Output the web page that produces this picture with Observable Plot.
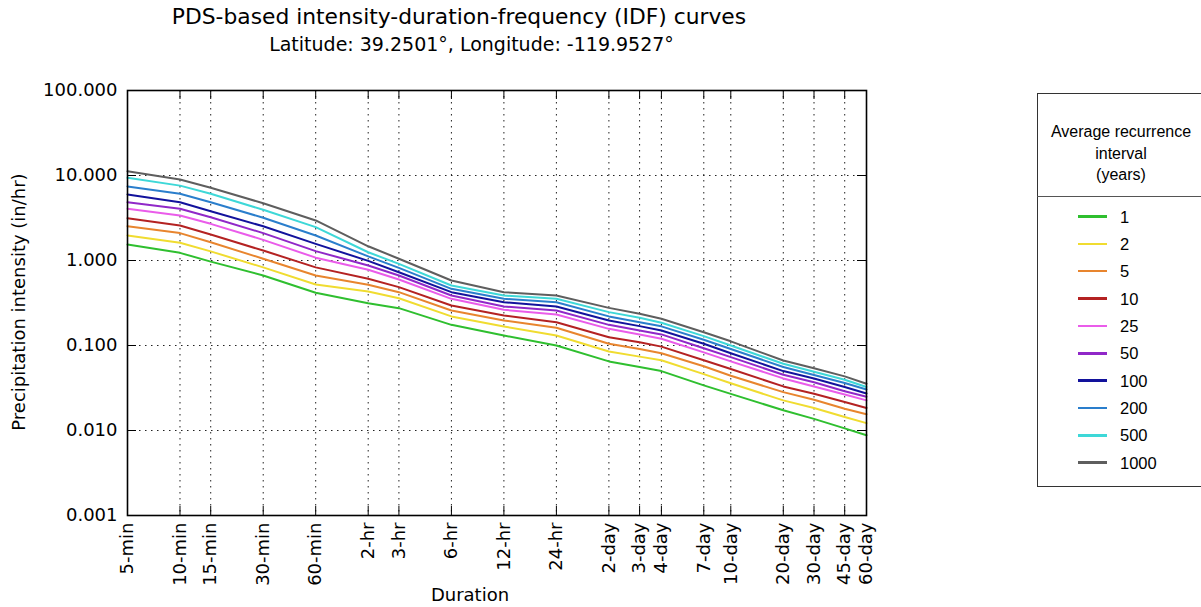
<!DOCTYPE html>
<html>
<head>
<meta charset="utf-8">
<script src="https://cdn.jsdelivr.net/npm/d3@7"></script>
<script src="https://cdn.jsdelivr.net/npm/@observablehq/plot@0.6"></script>
<style>
  html, body { margin: 0; padding: 0; background: #fff; }
  #wrap { position: relative; width: 1201px; height: 607px; overflow: hidden; background: #fff; }
  #chart { position: absolute; left: 0; top: 0; }
  .t { position: absolute; font-family: "DejaVu Sans", sans-serif; color: #000; white-space: nowrap; }
  .lg { position: absolute; font-family: "Liberation Sans", Arial, sans-serif; color: #000; white-space: nowrap; }
</style>
</head>
<body>
<div id="wrap">
  <div id="chart"></div>
  <div class="t" id="title" style="left:0;width:918px;top:6px;font-size:21.8px;line-height:22px;text-align:center;"></div>
  <div class="t" id="subtitle" style="left:0;width:943px;top:35px;font-size:19px;line-height:19px;text-align:center;"></div>
  <div class="t" id="xlabel" style="left:270px;width:400px;top:586px;font-size:18px;line-height:18px;text-align:center;"></div>
  <div class="t" id="ylabel" style="left:-181px;width:400px;top:292px;height:20px;font-size:18px;line-height:20px;text-align:center;transform:rotate(-90deg);transform-origin:50% 50%;"></div>
  <div id="legend"></div>
</div>
<script>
// ---- data ----
const durations = [5, 10, 15, 30, 60, 120, 180, 360, 720, 1440, 2880, 4320, 5760, 10080, 14400, 28800, 43200, 64800, 86400];
const durationLabels = ["5-min", "10-min", "15-min", "30-min", "60-min", "2-hr", "3-hr", "6-hr", "12-hr", "24-hr",
  "2-day", "3-day", "4-day", "7-day", "10-day", "20-day", "30-day", "45-day", "60-day"];
const yTicks = [0.001, 0.01, 0.1, 1, 10, 100];
const aris = ["1", "2", "5", "10", "25", "50", "100", "200", "500", "1000"];
const colors = ["#2fbf2f", "#f0dc30", "#e8852e", "#b42222", "#ea5cea", "#9028c8", "#12129c", "#2a7ecc", "#3ed8d8", "#5e5e5e"];

const ari1    = [1.54, 1.23, 0.97, 0.667, 0.417, 0.315, 0.275, 0.175, 0.131, 0.100, 0.065, 0.056, 0.050, 0.034, 0.027, 0.0173, 0.0137, 0.0106, 0.0088];
const ari2    = [1.97, 1.62, 1.28, 0.83, 0.522, 0.432, 0.360, 0.220, 0.167, 0.131, 0.085, 0.074, 0.067, 0.046, 0.036, 0.0226, 0.0184, 0.0144, 0.0122];
const ari5    = [2.53, 2.10, 1.64, 1.05, 0.667, 0.518, 0.424, 0.258, 0.197, 0.162, 0.105, 0.091, 0.081, 0.057, 0.044, 0.0283, 0.0230, 0.0180, 0.0155];
const ari10   = [3.15, 2.58, 2.02, 1.31, 0.83, 0.609, 0.486, 0.296, 0.226, 0.188, 0.125, 0.109, 0.097, 0.067, 0.053, 0.0330, 0.0270, 0.0216, 0.0184];
const ari25   = [4.06, 3.38, 2.70, 1.75, 1.08, 0.777, 0.598, 0.354, 0.263, 0.232, 0.157, 0.135, 0.120, 0.083, 0.065, 0.0410, 0.0330, 0.0265, 0.0226];
const ari50   = [4.85, 4.06, 3.23, 2.10, 1.29, 0.873, 0.666, 0.387, 0.288, 0.258, 0.175, 0.150, 0.135, 0.093, 0.073, 0.0453, 0.0370, 0.0290, 0.0249];
const ari100  = [5.98, 4.85, 3.80, 2.53, 1.57, 0.99, 0.728, 0.424, 0.323, 0.288, 0.197, 0.169, 0.150, 0.105, 0.081, 0.0500, 0.0410, 0.0325, 0.0272];
const ari200  = [7.42, 6.10, 4.85, 3.18, 1.97, 1.12, 0.820, 0.464, 0.354, 0.323, 0.220, 0.188, 0.168, 0.117, 0.091, 0.0558, 0.0450, 0.0362, 0.0303];
const ari500  = [9.40, 7.60, 6.10, 3.95, 2.47, 1.25, 0.914, 0.508, 0.387, 0.354, 0.247, 0.212, 0.185, 0.129, 0.100, 0.0609, 0.0490, 0.0395, 0.0325];
const ari1000 = [11.2, 8.97, 7.17, 4.72, 2.96, 1.47, 1.05, 0.582, 0.424, 0.387, 0.277, 0.236, 0.206, 0.143, 0.112, 0.0666, 0.0540, 0.0433, 0.0355];

const titleText = "PDS-based intensity-duration-frequency (IDF) curves";
const subtitleText = "Latitude: 39.2501°, Longitude: -119.9527°";
const xLabelText = "Duration";
const yLabelText = "Precipitation intensity (in/hr)";
const legendTitle = ["Average recurrence", "interval", "(years)"];

// ---- build table ----
const seriesValues = [ari1, ari2, ari5, ari10, ari25, ari50, ari100, ari200, ari500, ari1000];
const table = [];
aris.forEach((a, k) => durations.forEach((d, i) => table.push({ari: a, dur: d, value: seriesValues[k][i]})));
const durTable = durations.map((d, i) => ({dur: d, label: durationLabels[i]}));

const W = 1201, H = 607, mL = 127, mR = 335, mT = 90, mB = 92;
const fw = W - mL - mR, fh = H - mT - mB, tick = 9;

const chart = Plot.plot({
  width: W, height: H,
  marginLeft: mL, marginRight: mR, marginTop: mT, marginBottom: mB,
  style: {fontFamily: "DejaVu Sans, sans-serif", fontSize: "18px", color: "#000", background: "transparent"},
  x: {type: "log", domain: [5, 86400], axis: null},
  y: {type: "log", domain: [0.001, 100], axis: null},
  color: {domain: aris, range: colors},
  marks: [
    Plot.ruleX(durations, {x: d => d, stroke: "#222", strokeWidth: 1, strokeDasharray: "1.5,4.5"}),
    Plot.ruleY(yTicks, {y: d => d, stroke: "#222", strokeWidth: 1, strokeDasharray: "1.5,4.5"}),
    Plot.line(table, {x: "dur", y: "value", z: "ari", stroke: "ari", strokeWidth: 2}),
    Plot.ruleX(durations, {x: d => d, insetTop: fh - tick, stroke: "#000", strokeWidth: 1}),
    Plot.ruleX(durations, {x: d => d, insetBottom: fh - tick, stroke: "#000", strokeWidth: 1}),
    Plot.ruleY(yTicks, {y: d => d, insetRight: fw - tick, stroke: "#000", strokeWidth: 1}),
    Plot.ruleY(yTicks, {y: d => d, insetLeft: fw - tick, stroke: "#000", strokeWidth: 1}),
    Plot.text(durTable, {x: "dur", text: "label", frameAnchor: "bottom", rotate: -90, textAnchor: "end", lineAnchor: "middle", dy: 7, fontSize: 18, fill: "#000"}),
    Plot.text(yTicks, {y: d => d, text: d => d.toFixed(3), frameAnchor: "left", textAnchor: "end", lineAnchor: "middle", dx: -10, fontSize: 18, fill: "#000"}),
    Plot.frame({stroke: "#000", strokeWidth: 1.6})
  ]
});
document.getElementById("chart").appendChild(chart);

document.getElementById("title").textContent = titleText;
document.getElementById("subtitle").textContent = subtitleText;
document.getElementById("xlabel").textContent = xLabelText;
document.getElementById("ylabel").textContent = yLabelText;

// ---- legend ----
const lg = document.getElementById("legend");
const box = document.createElement("div");
box.style.cssText = "position:absolute;left:1037px;top:93px;width:168px;height:394px;border:1.5px solid #333;box-sizing:border-box;background:#fff;";
lg.appendChild(box);
const head = document.createElement("div");
head.className = "lg";
head.style.cssText += "left:1037px;width:168px;top:121px;font-size:16px;line-height:21.5px;text-align:center;white-space:normal;";
head.innerHTML = legendTitle.join("<br>");
lg.appendChild(head);
const sep = document.createElement("div");
sep.style.cssText = "position:absolute;left:1037px;top:196px;width:168px;height:0;border-top:1.5px solid #555;";
lg.appendChild(sep);
aris.forEach((a, i) => {
  const cy = 216.5 + i * 27.35;
  const ln = document.createElement("div");
  ln.style.cssText = `position:absolute;left:1078px;top:${cy - 1.25}px;width:29px;height:2.5px;background:${colors[i]};`;
  lg.appendChild(ln);
  const tx = document.createElement("div");
  tx.className = "lg";
  tx.style.cssText += `left:1120px;top:${cy - 10}px;font-size:16.5px;line-height:20px;`;
  tx.textContent = a;
  lg.appendChild(tx);
});
</script>
</body>
</html>
